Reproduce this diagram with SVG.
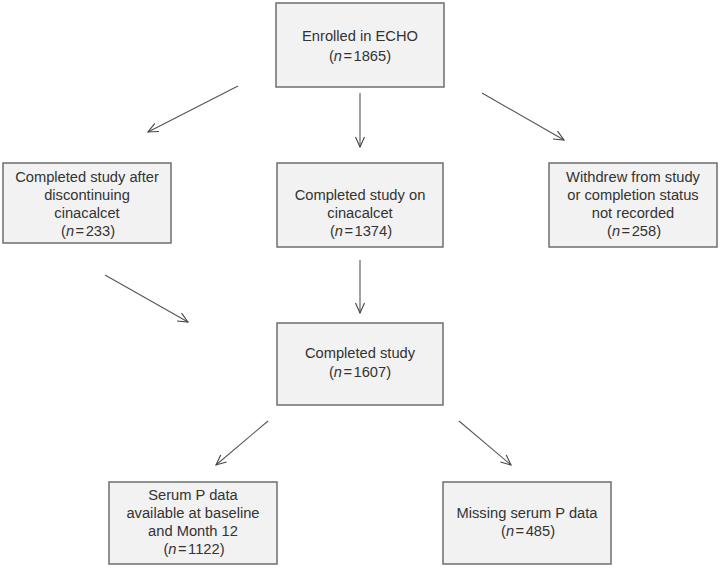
<svg xmlns="http://www.w3.org/2000/svg" width="720" height="568" viewBox="0 0 720 568">
<style>
.box{fill:#f2f2f2;stroke:#6e6e6e;stroke-width:1.5}
.t{font-family:"Liberation Sans",Arial,sans-serif;font-size:14.7px;fill:#333;text-anchor:middle}
.n{font-style:italic}
.c{stroke:#555;stroke-width:1.1;fill:none;marker-end:url(#ah)}
</style>
<defs>
<marker id="ah" viewBox="0 0 12 12" refX="11" refY="6" markerWidth="12" markerHeight="12" markerUnits="userSpaceOnUse" orient="auto">
<path d="M1,1.5 L11,6 L1,10.5" fill="none" stroke="#444" stroke-width="1.1"/>
</marker>
</defs>
<rect width="720" height="568" fill="#fff"/>
<g id="connectors">
<line class="c" x1="360" y1="93" x2="360" y2="147"/>
<line class="c" x1="238" y1="86" x2="148" y2="132"/>
<line class="c" x1="482" y1="93" x2="564" y2="140"/>
<line class="c" x1="105" y1="275" x2="188" y2="322"/>
<line class="c" x1="360" y1="260" x2="360" y2="313"/>
<line class="c" x1="268" y1="421" x2="216" y2="465"/>
<line class="c" x1="459" y1="421" x2="511" y2="465"/>
</g>
<g id="enrolled">
<rect class="box" x="276" y="3" width="168" height="84"/>
<text class="t" x="360" y="41">Enrolled in ECHO</text>
<text class="t" x="360" y="61">(<tspan class="n">n</tspan><tspan dx="1.5">=</tspan><tspan dx="1.5">1865)</tspan></text>
</g>
<g id="discontinued">
<rect class="box" x="3" y="163" width="168" height="80"/>
<text class="t" x="87" y="182">Completed study after</text>
<text class="t" x="87" y="200">discontinuing</text>
<text class="t" x="87" y="218">cinacalcet</text>
<text class="t" x="88" y="236">(<tspan class="n">n</tspan><tspan dx="1.5">=</tspan><tspan dx="1.5">233)</tspan></text>
</g>
<g id="oncinacalcet">
<rect class="box" x="277" y="163" width="166" height="84"/>
<text class="t" x="360" y="200">Completed study on</text>
<text class="t" x="360" y="218">cinacalcet</text>
<text class="t" x="361" y="236">(<tspan class="n">n</tspan><tspan dx="1.5">=</tspan><tspan dx="1.5">1374)</tspan></text>
</g>
<g id="withdrew">
<rect class="box" x="549" y="163" width="168" height="84"/>
<text class="t" x="633" y="182">Withdrew from study</text>
<text class="t" x="633" y="200">or completion status</text>
<text class="t" x="633" y="218">not recorded</text>
<text class="t" x="634" y="236">(<tspan class="n">n</tspan><tspan dx="1.5">=</tspan><tspan dx="1.5">258)</tspan></text>
</g>
<g id="completed">
<rect class="box" x="277" y="323" width="166" height="82"/>
<text class="t" x="360" y="358">Completed study</text>
<text class="t" x="360" y="377">(<tspan class="n">n</tspan><tspan dx="1.5">=</tspan><tspan dx="1.5">1607)</tspan></text>
</g>
<g id="serumavailable">
<rect class="box" x="109" y="482" width="168" height="82"/>
<text class="t" x="193" y="500">Serum P data</text>
<text class="t" x="193" y="518">available at baseline</text>
<text class="t" x="193" y="536">and Month 12</text>
<text class="t" x="194" y="554">(<tspan class="n">n</tspan><tspan dx="1.5">=</tspan><tspan dx="1.5">1122)</tspan></text>
</g>
<g id="missing">
<rect class="box" x="443" y="482" width="168" height="82"/>
<text class="t" x="527" y="518">Missing serum P data</text>
<text class="t" x="528" y="536">(<tspan class="n">n</tspan><tspan dx="1.5">=</tspan><tspan dx="1.5">485)</tspan></text>
</g>
</svg>
